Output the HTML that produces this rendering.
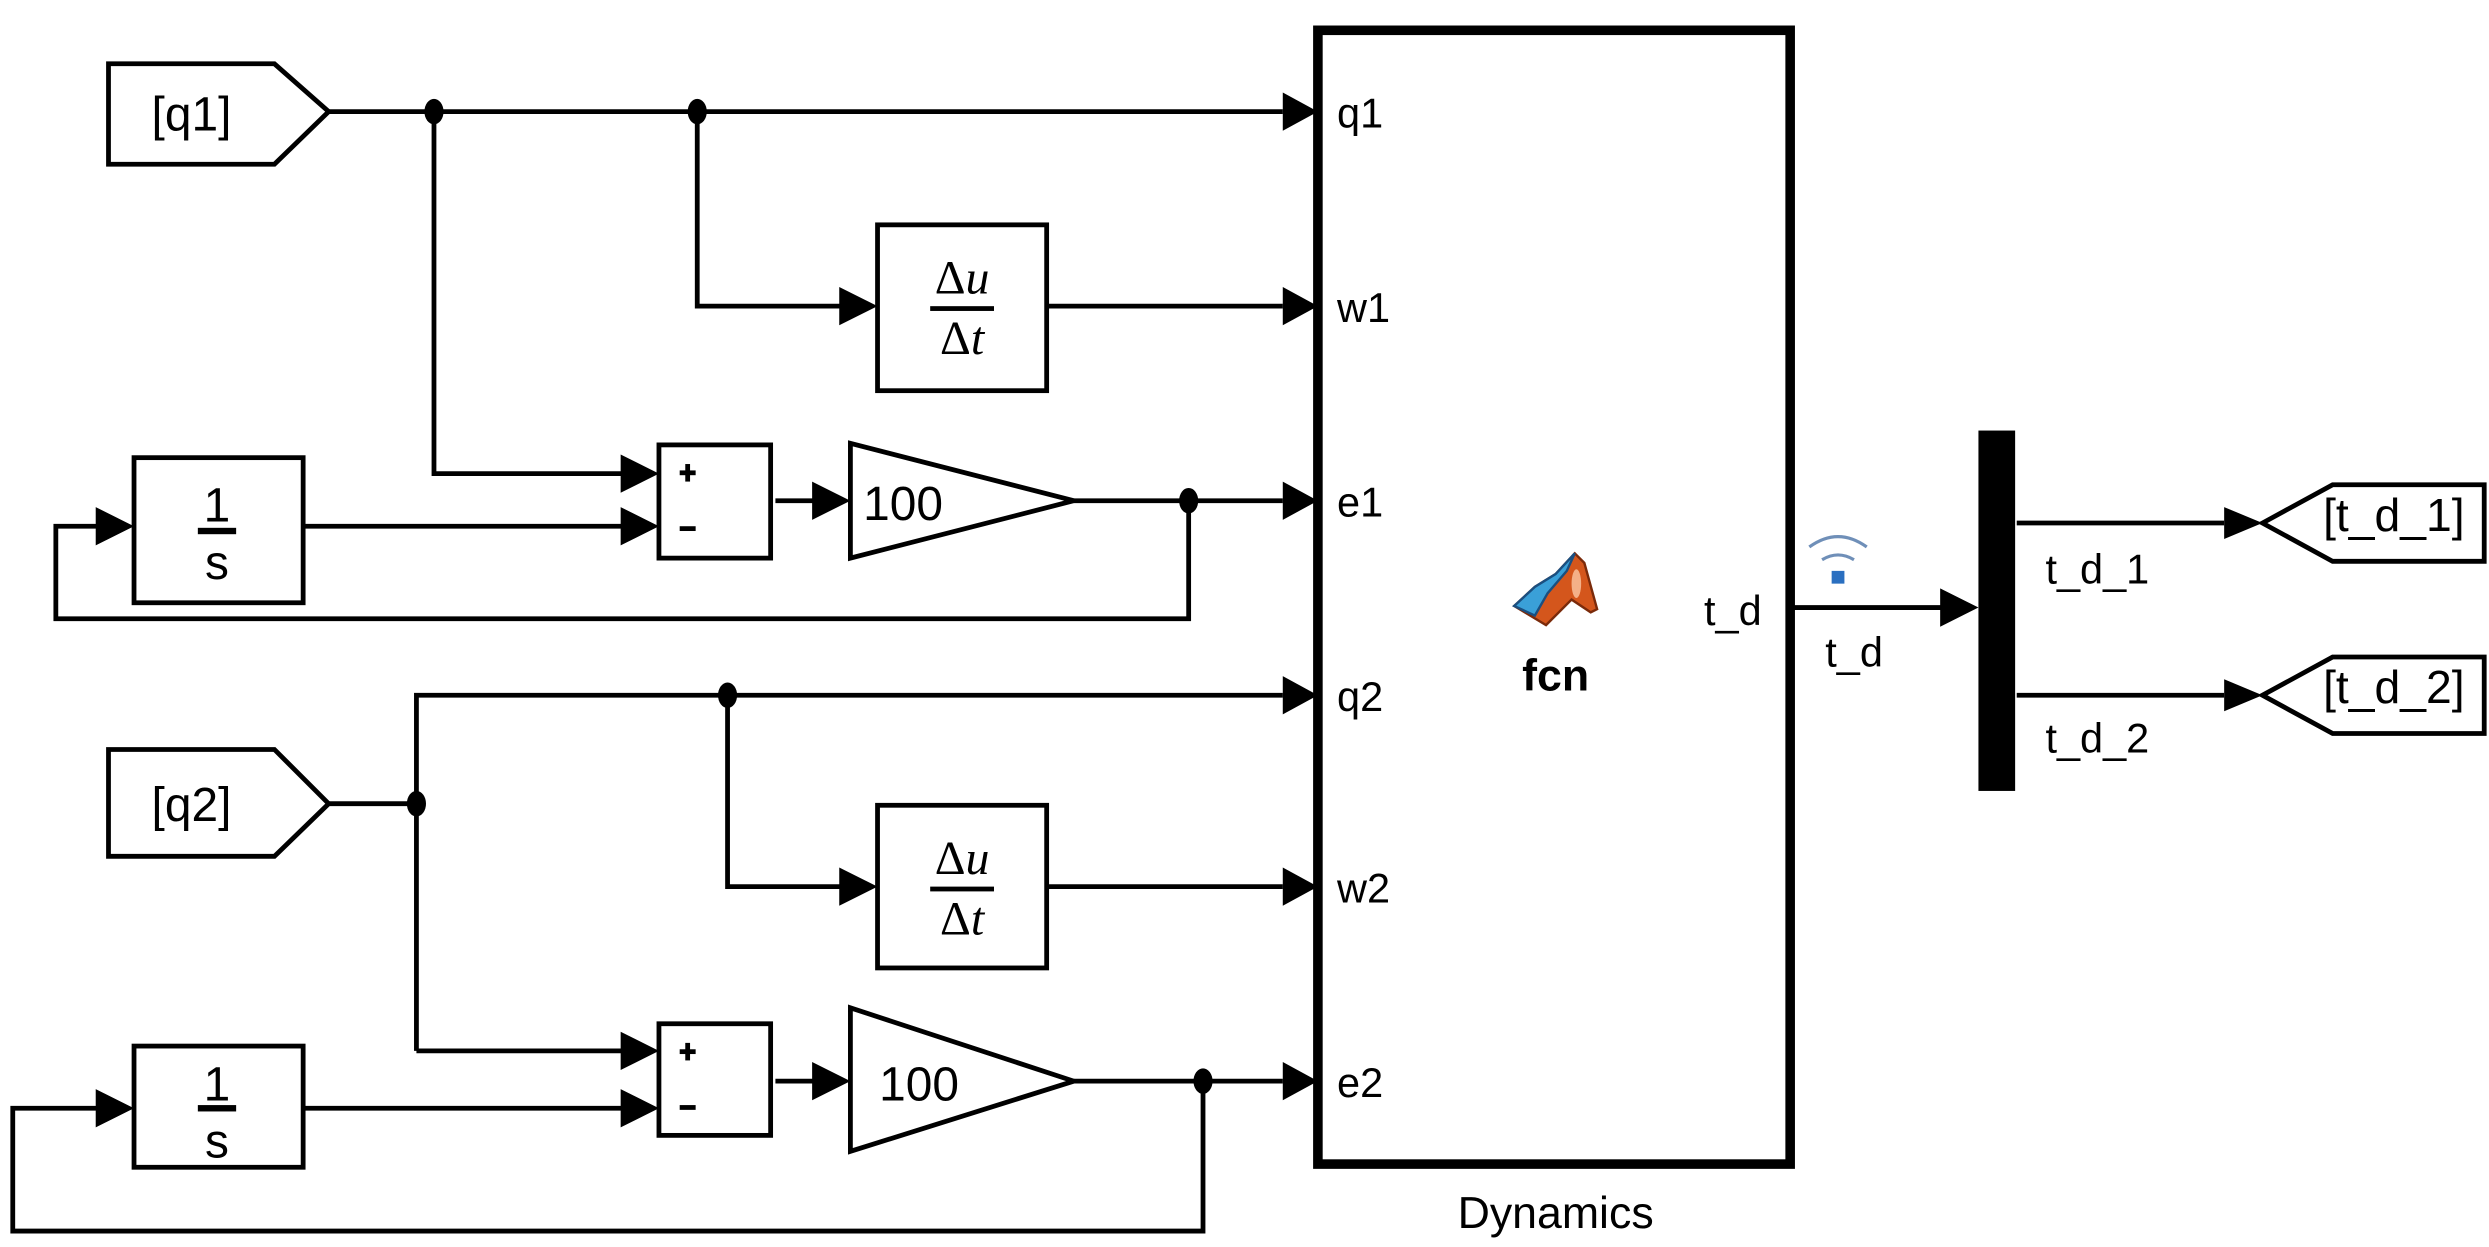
<!DOCTYPE html>
<html><head><meta charset="utf-8"><style>
html,body{margin:0;padding:0;background:#fff;}
svg{display:block;}
text{font-family:"Liberation Sans",Arial,sans-serif;fill:#000;}
</style></head><body>
<svg width="2489" height="1247" viewBox="0 0 1560 782" preserveAspectRatio="none" xmlns="http://www.w3.org/2000/svg">
<g fill="none" stroke="#000" stroke-width="3">
<rect x="826" y="19" width="296" height="711" stroke-width="6"/>
<polygon points="68,40 172,40 206,70 172,103 68,103"/>
<polyline points="206,70 804,70"/>
<polyline points="437,70 437,192 528,192"/>
<rect x="550" y="141" width="106" height="104"/>
<polyline points="656,192 804,192"/>
<polyline points="272,70 272,297 391,297"/>
<rect x="413" y="279" width="70" height="71"/>
<rect x="84" y="287" width="106" height="91"/>
<polyline points="190,330 391,330"/>
<polyline points="486,314 511,314"/>
<polygon points="533,278 533,350 673,314"/>
<polyline points="673,314 804,314"/>
<polyline points="745,314 745,388 35,388 35,330 62,330"/>
<polygon points="68,470 172,470 206,504 172,537 68,537"/>
<polyline points="206,504 261,504"/>
<polyline points="261,659 261,436 804,436"/>
<polyline points="261,659 391,659"/>
<polyline points="456,436 456,556 528,556"/>
<rect x="550" y="505" width="106" height="102"/>
<polyline points="656,556 804,556"/>
<rect x="413" y="642" width="70" height="70"/>
<rect x="84" y="656" width="106" height="76"/>
<polyline points="190,695 391,695"/>
<polyline points="486,678 511,678"/>
<polygon points="533,632 533,722 673,678"/>
<polyline points="673,678 804,678"/>
<polyline points="754,678 754,772 8,772 8,695 62,695"/>
<polyline points="1122,381 1218,381"/>
<polyline points="1264,328 1394,328"/>
<polyline points="1264,436 1394,436"/>
<polygon points="1418,328 1462,304 1557,304 1557,352 1462,352"/>
<polygon points="1418,436 1462,412 1557,412 1557,460 1462,460"/>
</g>
<g fill="#000">
<polygon points="804,58 826,70 804,82"/>
<polygon points="804,180 826,192 804,204"/>
<polygon points="804,302 826,314 804,326"/>
<polygon points="804,424 826,436 804,448"/>
<polygon points="804,544 826,556 804,568"/>
<polygon points="804,666 826,678 804,690"/>
<polygon points="526,180 550,192 526,204"/>
<polygon points="526,544 550,556 526,568"/>
<polygon points="389,285 413,297 389,309"/>
<polygon points="389,318 413,330 389,342"/>
<polygon points="389,647 413,659 389,671"/>
<polygon points="389,683 413,695 389,707"/>
<polygon points="509,302 533,314 509,326"/>
<polygon points="509,666 533,678 509,690"/>
<polygon points="60,318 84,330 60,342"/>
<polygon points="60,683 84,695 60,707"/>
<polygon points="1216,369 1240,381 1216,393"/>
<polygon points="1394,318 1418,328 1394,338"/>
<polygon points="1394,426 1418,436 1394,446"/>
<ellipse cx="272" cy="70" rx="6" ry="8"/>
<ellipse cx="437" cy="70" rx="6" ry="8"/>
<ellipse cx="745" cy="314" rx="6" ry="8"/>
<ellipse cx="261" cy="504" rx="6" ry="8"/>
<ellipse cx="456" cy="436" rx="6" ry="8"/>
<ellipse cx="754" cy="678" rx="6" ry="8"/>
<rect x="1240" y="270" width="23" height="226"/>
<rect x="426" y="295" width="10" height="3"/>
<rect x="429.5" y="291" width="3" height="11"/>
<rect x="426" y="330" width="10" height="3"/>
<rect x="426" y="658" width="10" height="3"/>
<rect x="429.5" y="654" width="3" height="11"/>
<rect x="426" y="693" width="10" height="3"/>
<rect x="583" y="192" width="40" height="3"/>
<rect x="583" y="556" width="40" height="3"/>
<rect x="124" y="331" width="24" height="4"/>
<rect x="124" y="693" width="24" height="4"/>
</g>
<text x="120" y="82" font-size="30" text-anchor="middle">[q1]</text>
<text x="120" y="515" font-size="30" text-anchor="middle">[q2]</text>
<text x="603" y="184" font-size="30" text-anchor="middle" style="font-family:'Liberation Serif',serif">Δ<tspan font-style="italic">u</tspan></text>
<text x="603" y="222" font-size="30" text-anchor="middle" style="font-family:'Liberation Serif',serif">Δ<tspan font-style="italic">t</tspan></text>
<text x="603" y="548" font-size="30" text-anchor="middle" style="font-family:'Liberation Serif',serif">Δ<tspan font-style="italic">u</tspan></text>
<text x="603" y="586" font-size="30" text-anchor="middle" style="font-family:'Liberation Serif',serif">Δ<tspan font-style="italic">t</tspan></text>
<text x="136" y="327" font-size="30" text-anchor="middle">1</text>
<text x="136" y="363" font-size="30" text-anchor="middle">s</text>
<text x="136" y="690" font-size="30" text-anchor="middle">1</text>
<text x="136" y="726" font-size="30" text-anchor="middle">s</text>
<text x="566" y="326" font-size="30" text-anchor="middle">100</text>
<text x="576" y="690" font-size="30" text-anchor="middle">100</text>
<g font-size="26">
<text x="838" y="80">q1</text>
<text x="838" y="202">w1</text>
<text x="838" y="324">e1</text>
<text x="838" y="446">q2</text>
<text x="838" y="566">w2</text>
<text x="838" y="688">e2</text>
<text x="1068" y="392">t_d</text>
<text x="1144" y="418">t_d</text>
<text x="1282" y="366">t_d_1</text>
<text x="1282" y="472">t_d_2</text>
</g>
<text x="1456" y="333" font-size="29">[t_d_1]</text>
<text x="1456" y="441" font-size="29">[t_d_2]</text>
<text x="975" y="433" font-size="28" font-weight="bold" text-anchor="middle">fcn</text>
<text x="975" y="770" font-size="28" text-anchor="middle">Dynamics</text>
<path d="M949,380 L962,368 L975,360 L987,347 L993,353 L1001,382 L997,384 L985,376 L969,392 Z" fill="#d4561c" stroke="#7a2a0a" stroke-width="1.5"/>
<path d="M949,380 L962,368 L975,360 L987,347 L982,358 L970,372 L962,386 Z" fill="#3aa0d8" stroke="#1a4f80" stroke-width="1.5"/>
<ellipse cx="988" cy="366" rx="3" ry="9" fill="#f4b088"/>
<g fill="none" stroke="#6f8fb8" stroke-width="2">
<path d="M1134,343 Q1152,330 1170,343"/>
<path d="M1142,351 Q1152,345 1162,351"/>
</g>
<rect x="1148" y="358" width="8" height="8" fill="#2a6fc0"/>
</svg>
</body></html>
